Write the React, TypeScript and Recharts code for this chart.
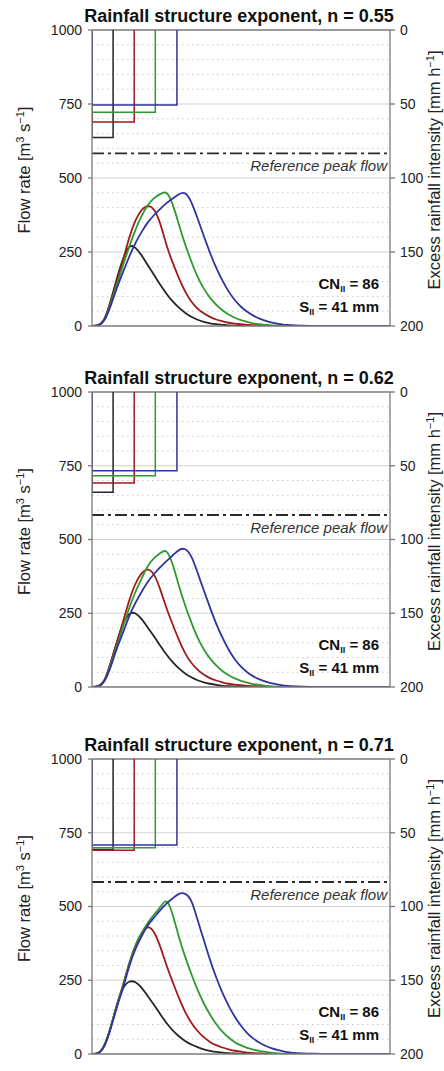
import React from 'react';
import { ComposedChart, Line, XAxis, YAxis, CartesianGrid, ReferenceLine } from 'recharts';

// time axis (arbitrary units, 0..12; tick labels are cut off in the reference)
const times = [0, 0.25, 0.5, 0.75, 1, 1.25, 1.5, 1.75, 2, 2.25, 2.5, 2.75, 3, 3.25, 3.5, 3.75, 4, 4.25, 4.5, 4.75, 5, 5.25, 5.5, 5.75, 6, 6.25, 6.5, 6.75, 7, 7.25, 7.5, 7.75, 8, 8.5, 9, 9.5, 10, 10.5, 11, 11.5, 12];
const xTicks = [0, 1, 2, 3, 4, 5, 6, 7, 8, 9, 10, 11, 12];
const flowTicks = [0, 250, 500, 750, 1000];
const flowMinor = [50, 100, 150, 200, 300, 350, 400, 450, 550, 600, 650, 700, 800, 850, 900, 950];
const rainTicks = [0, 50, 100, 150, 200];
const referencePeakFlow = 583;
const exponents = ['0.55', '0.62', '0.71'];

// Panel 1 (n = 0.55) hydrographs [m3/s]
const p1Black = [0, 3, 25, 85, 160, 226, 267, 264, 238, 205, 172, 139, 109, 83, 62, 45, 31, 21, 14, 9, 6, 4, 2, 1, 1, 0, 0, 0, 0, 0, 0, 0, 0, 0, 0, 0, 0, 0, 0, 0, 0];
const p1Red = [0, 3, 23, 80, 150, 222, 298, 356, 392, 405, 392, 345, 274, 214, 162, 117, 83, 59, 43, 31, 22, 16, 11, 8, 6, 4, 3, 2, 1, 0, 0, 0, 0, 0, 0, 0, 0, 0, 0, 0, 0];
const p1Green = [0, 2, 22, 74, 140, 205, 268, 325, 372, 408, 432, 446, 449, 410, 343, 276, 218, 167, 127, 96, 72, 53, 39, 28, 20, 14, 9, 6, 4, 2, 1, 0, 0, 0, 0, 0, 0, 0, 0, 0, 0];
const p1Blue = [0, 2, 20, 68, 128, 182, 234, 280, 318, 350, 375, 396, 415, 431, 445, 448, 418, 364, 305, 248, 197, 154, 117, 88, 65, 48, 35, 25, 17, 11, 7, 4, 3, 1, 0, 0, 0, 0, 0, 0, 0];

// Panel 2 (n = 0.62)
const p2Black = [0, 3, 24, 82, 152, 212, 247, 249, 230, 201, 171, 140, 110, 84, 63, 46, 33, 23, 16, 11, 7, 4, 3, 2, 1, 0, 0, 0, 0, 0, 0, 0, 0, 0, 0, 0, 0, 0, 0, 0, 0];
const p2Red = [0, 3, 23, 80, 150, 222, 293, 350, 385, 398, 380, 330, 268, 212, 160, 115, 82, 59, 42, 30, 22, 16, 11, 8, 6, 4, 3, 2, 1, 0, 0, 0, 0, 0, 0, 0, 0, 0, 0, 0, 0];
const p2Green = [0, 2, 22, 74, 140, 205, 268, 322, 368, 410, 437, 454, 459, 415, 343, 277, 219, 168, 128, 97, 73, 54, 40, 29, 21, 15, 10, 7, 4, 2, 1, 0, 0, 0, 0, 0, 0, 0, 0, 0, 0];
const p2Blue = [0, 2, 20, 68, 130, 185, 240, 285, 323, 357, 383, 406, 427, 446, 464, 467, 442, 388, 328, 270, 215, 168, 127, 94, 69, 50, 36, 26, 18, 12, 8, 5, 3, 1, 0, 0, 0, 0, 0, 0, 0];

// Panel 3 (n = 0.71)
const p3Black = [0, 3, 30, 90, 165, 222, 245, 243, 224, 196, 166, 135, 105, 80, 60, 44, 32, 23, 16, 11, 7, 5, 3, 2, 1, 0, 0, 0, 0, 0, 0, 0, 0, 0, 0, 0, 0, 0, 0, 0, 0];
const p3Red = [0, 3, 30, 90, 165, 235, 308, 368, 410, 429, 412, 363, 301, 244, 190, 143, 106, 78, 57, 41, 30, 22, 16, 11, 8, 5, 3, 2, 1, 0, 0, 0, 0, 0, 0, 0, 0, 0, 0, 0, 0];
const p3Green = [0, 3, 30, 90, 163, 232, 305, 365, 410, 445, 473, 498, 517, 472, 397, 330, 271, 218, 172, 134, 102, 76, 56, 40, 29, 21, 15, 10, 7, 4, 2, 1, 0, 0, 0, 0, 0, 0, 0, 0, 0];
const p3Blue = [0, 3, 28, 86, 158, 225, 297, 355, 400, 436, 463, 488, 510, 528, 543, 543, 518, 455, 387, 320, 260, 208, 164, 126, 96, 71, 52, 38, 27, 19, 13, 8, 5, 2, 1, 0, 0, 0, 0, 0, 0];

// Excess rainfall blocks: durations (same time units) and intensities [mm/h]  order: black, red, green, blue
const rainDurations = [0.85, 1.7, 2.55, 3.42];
const p1Rain = [72.7, 62.2, 55.6, 50.7];
const p2Rain = [67.9, 61.7, 56.7, 53.4];
const p3Rain = [61.4, 61.8, 60.1, 58.3];

const colors = ['#262626', '#a11b1b', '#2f9a2f', '#3232a0'];
const seriesKeys = ['k', 'r', 'g', 'b'];

const panels = [
  { n: exponents[0], hydro: [p1Black, p1Red, p1Green, p1Blue], rain: p1Rain, top: 0, plotH: 296 },
  { n: exponents[1], hydro: [p2Black, p2Red, p2Green, p2Blue], rain: p2Rain, top: 362, plotH: 295 },
  { n: exponents[2], hydro: [p3Black, p3Red, p3Green, p3Blue], rain: p3Rain, top: 729, plotH: 295 },
];

const FONT = '"Liberation Sans", Arial, Helvetica, sans-serif';
const MARGIN_TOP = 30;
const XAXIS_H = 25;

const RefLabel = (props: any) => {
  const vb = props.viewBox || { x: 0, y: 0, width: 0 };
  return (
    <text x={vb.x + vb.width - 3} y={vb.y + 17.5} textAnchor="end" fontSize={15} fontStyle="italic" fill="#333" fontFamily={FONT}>
      Reference peak flow
    </text>
  );
};

function Panel({ n, hydro, rain, top, plotH }: any) {
  const data = times.map((t, idx) => {
    const row: any = { t };
    seriesKeys.forEach((k, s) => {
      row[k] = hydro[s][idx];
    });
    return row;
  });
  const rainShapes = rain.map((iv: number, s: number) => [
    { t: 0, i: 0 },
    { t: 0, i: iv },
    { t: rainDurations[s], i: iv },
    { t: rainDurations[s], i: 0 },
  ]);
  const chartH = MARGIN_TOP + plotH + XAXIS_H;
  const plotBottom = MARGIN_TOP + plotH;
  const midY = MARGIN_TOP + plotH / 2 - 8;
  return (
    <div style={{ position: 'absolute', left: 0, top, width: 444, height: chartH }}>
      <ComposedChart width={444} height={chartH} data={data} margin={{ top: MARGIN_TOP, right: 0, bottom: 0, left: 0 }}>
        <CartesianGrid horizontalValues={flowMinor} vertical={false} stroke="#c8c8c8" strokeDasharray="1.5 3.5" />
        <CartesianGrid horizontalValues={[250, 500, 750]} verticalValues={[4, 8]} stroke="#d2d2d2" />
        <XAxis
          dataKey="t"
          type="number"
          domain={[0, 12]}
          ticks={xTicks}
          interval={0}
          tick={false}
          tickSize={5}
          height={XAXIS_H}
          axisLine={{ stroke: '#7a7a7a', strokeWidth: 1.3 }}
          tickLine={{ stroke: '#7a7a7a', strokeWidth: 1.3 }}
          allowDataOverflow
        />
        <YAxis
          type="number"
          domain={[0, 1000]}
          ticks={flowTicks}
          interval={0}
          width={92}
          tickSize={4}
          tickMargin={6}
          tick={{ fill: '#222', fontSize: 14, fontFamily: FONT }}
          axisLine={{ stroke: '#7a7a7a', strokeWidth: 1.3 }}
          tickLine={{ stroke: '#7a7a7a', strokeWidth: 1.3 }}
          allowDataOverflow
        />
        <YAxis
          yAxisId="right"
          orientation="right"
          type="number"
          reversed
          domain={[0, 200]}
          ticks={rainTicks}
          interval={0}
          width={54}
          tickSize={5}
          tickMargin={5}
          tick={{ fill: '#222', fontSize: 14, fontFamily: FONT }}
          axisLine={{ stroke: '#7a7a7a', strokeWidth: 1.3 }}
          tickLine={{ stroke: '#7a7a7a', strokeWidth: 1.3 }}
          allowDataOverflow
        />
        <ReferenceLine y={1000} stroke="#7a7a7a" strokeWidth={1.3} />
        <ReferenceLine
          y={referencePeakFlow}
          stroke="#2a2a2a"
          strokeWidth={1.8}
          strokeDasharray="12 4 3 4"
          label={<RefLabel />}
        />
        {seriesKeys.map((k, s) => (
          <Line
            key={'rain' + k}
            yAxisId="right"
            data={rainShapes[s]}
            dataKey="i"
            type="linear"
            stroke={colors[s]}
            strokeWidth={1.5}
            dot={false}
            activeDot={false}
            isAnimationActive={false}
          />
        ))}
        {seriesKeys.map((k, s) => (
          <Line
            key={'q' + k}
            dataKey={k}
            type="natural"
            stroke={colors[s]}
            strokeWidth={1.8}
            dot={false}
            activeDot={false}
            isAnimationActive={false}
          />
        ))}
      </ComposedChart>
      <svg width={444} height={chartH} style={{ position: 'absolute', left: 0, top: 0, pointerEvents: 'none' }} fontFamily={FONT}>
        <text x={239} y={21.5} textAnchor="middle" fontSize={18} fontWeight="bold" fill="#111">
          Rainfall structure exponent, n = {n}
        </text>
        <text x={379} y={plotBottom - 37} textAnchor="end" fontSize={15} fontWeight="bold" fill="#111">
          CN<tspan fontSize={9} dy={3}>II</tspan><tspan dy={-3}> = 86</tspan>
        </text>
        <text x={379} y={plotBottom - 14} textAnchor="end" fontSize={15} fontWeight="bold" fill="#111">
          S<tspan fontSize={9} dy={3}>II</tspan><tspan dy={-3}> = 41 mm</tspan>
        </text>
        <text x={30} y={midY} transform={`rotate(-90, 30, ${midY})`} textAnchor="middle" fontSize={16.5} fill="#222">
          Flow rate [m<tspan fontSize={11} dy={-6}>3</tspan><tspan dy={6}> s</tspan><tspan fontSize={11} dy={-6}>−1</tspan><tspan dy={6}>]</tspan>
        </text>
        <text x={440} y={midY} transform={`rotate(-90, 440, ${midY})`} textAnchor="middle" fontSize={16.5} fill="#222">
          Excess rainfall intensity [mm h<tspan fontSize={11} dy={-6}>−1</tspan><tspan dy={6}>]</tspan>
        </text>
      </svg>
    </div>
  );
}

export default function App() {
  return (
    <div style={{ position: 'absolute', left: 0, top: 0, width: 444, height: 1071, overflow: 'hidden', background: '#fff', fontFamily: FONT }}>
      {panels.map((p, i) => (
        <Panel key={i} {...p} />
      ))}
    </div>
  );
}
